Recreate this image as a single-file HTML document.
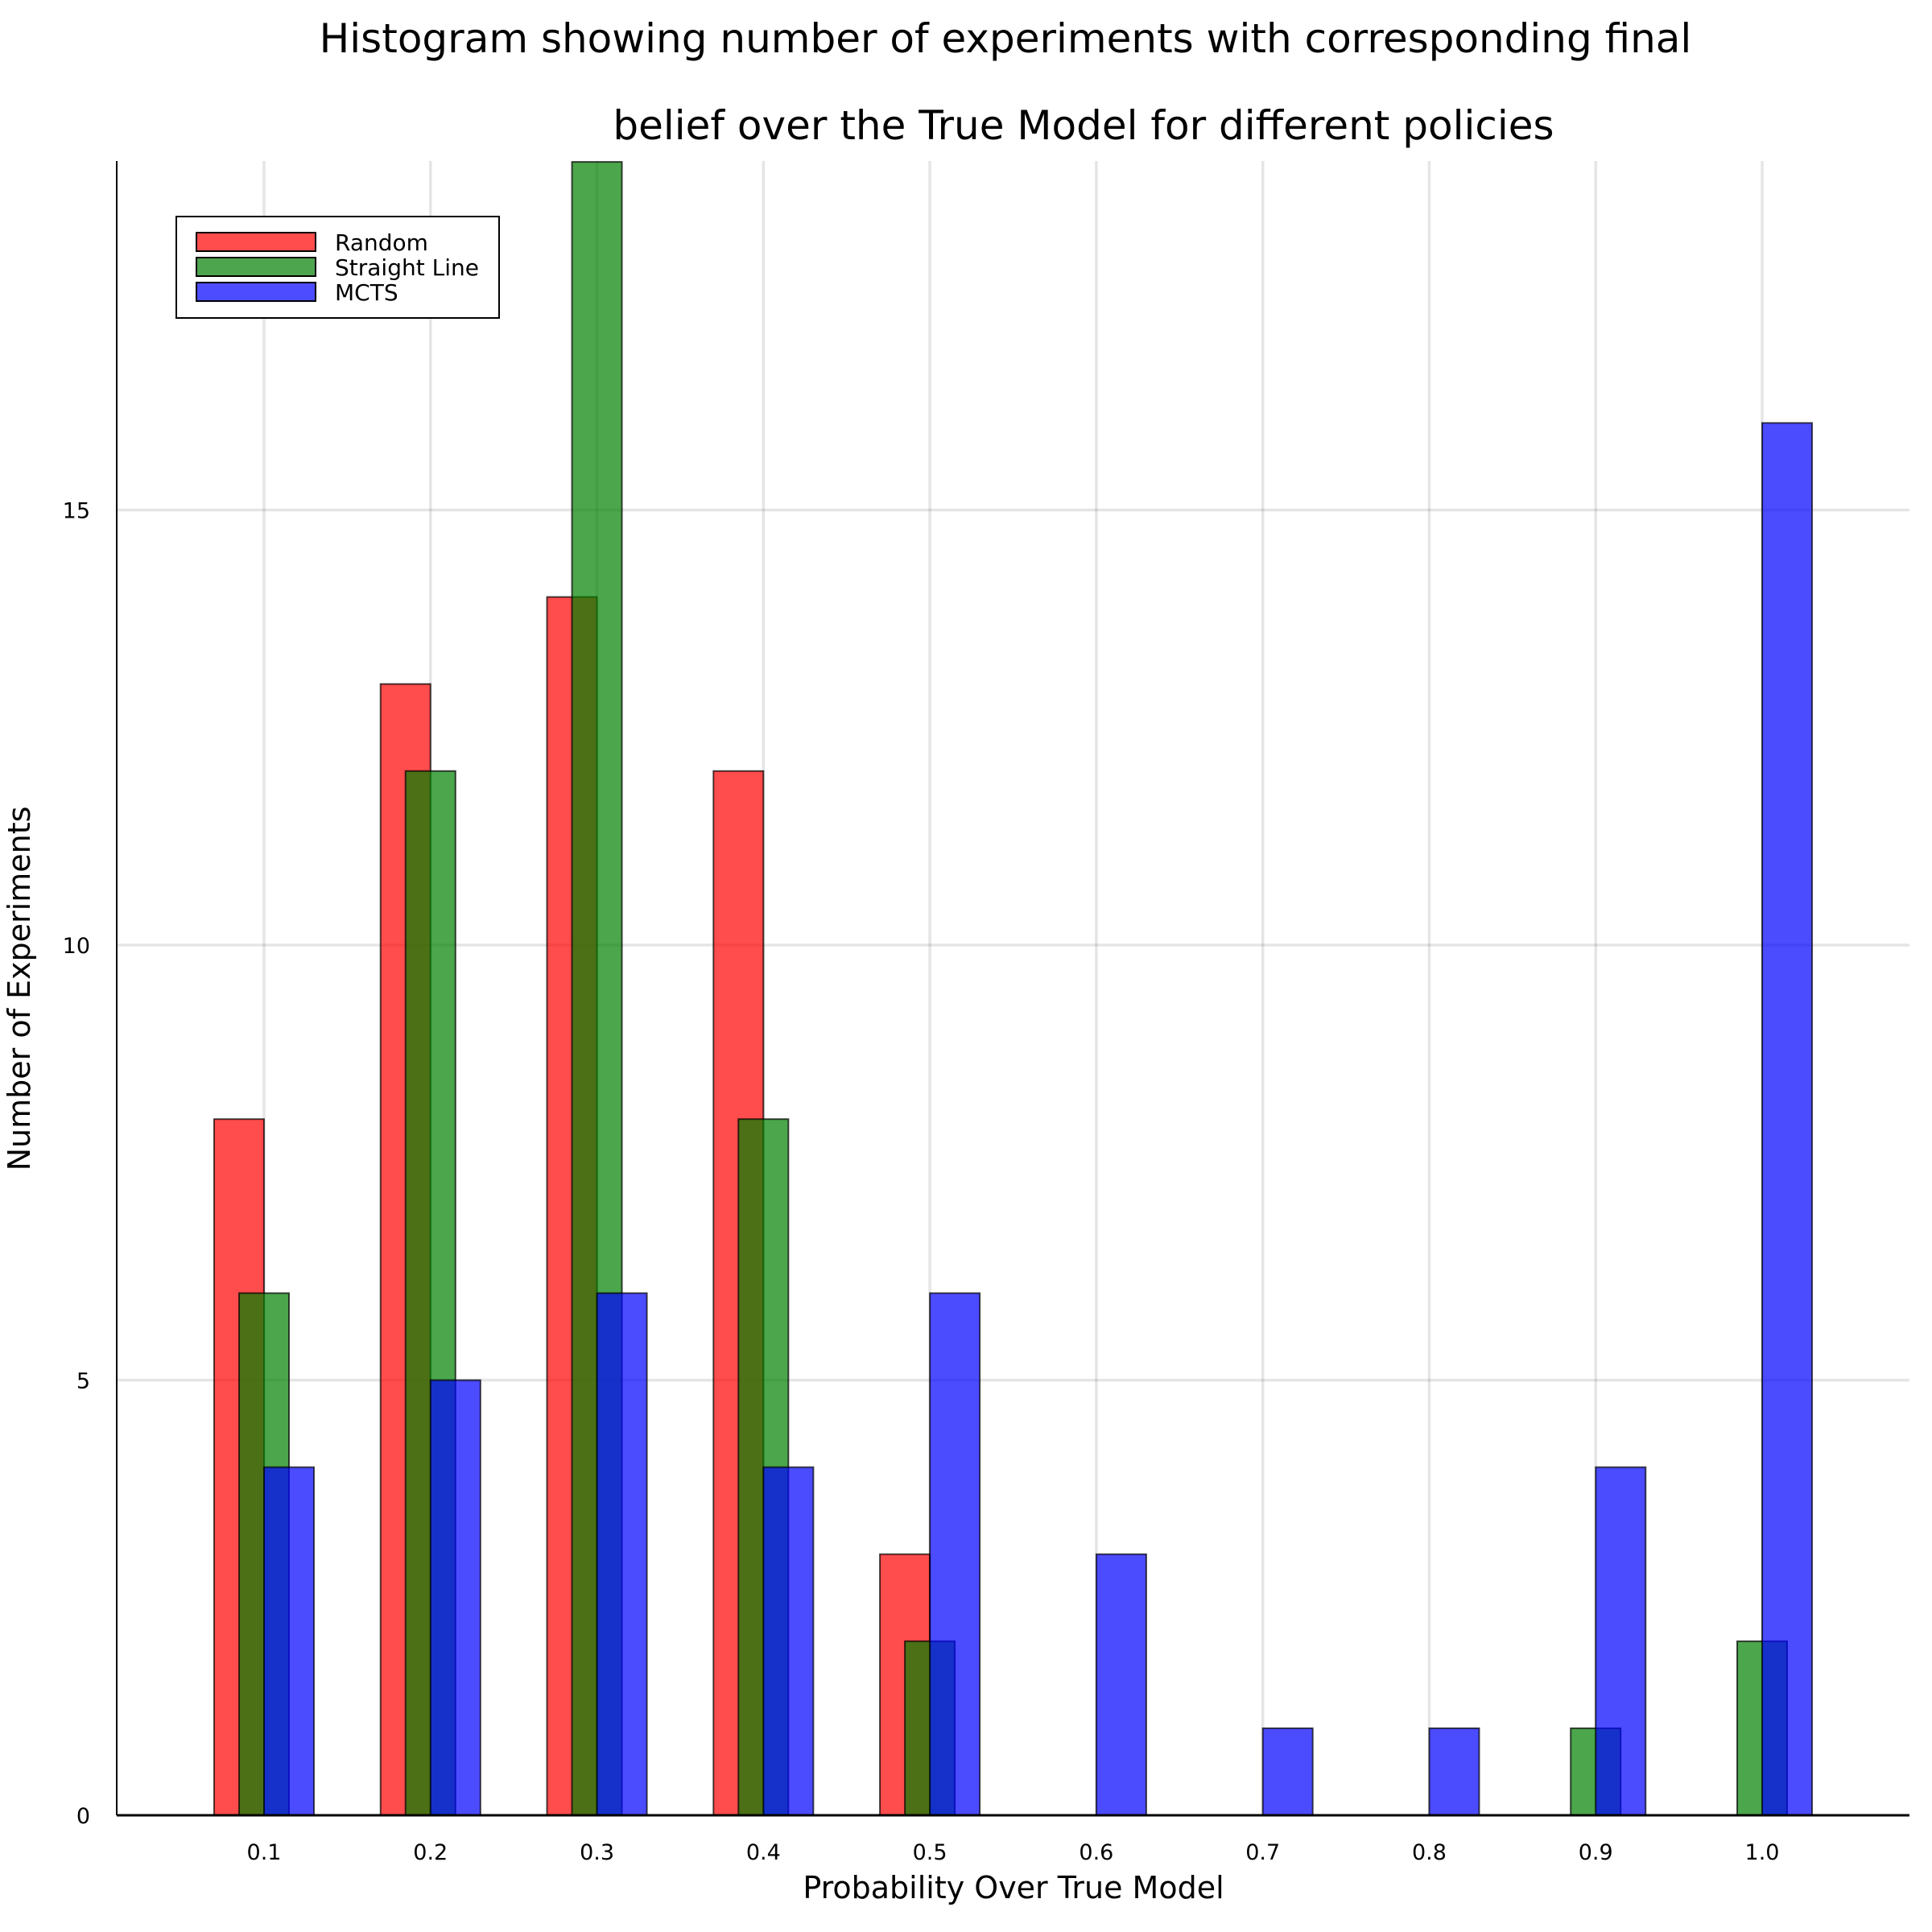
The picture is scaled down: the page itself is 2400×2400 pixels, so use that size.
<!DOCTYPE html>
<html><head><meta charset="utf-8">
<style>
html,body{margin:0;padding:0;background:#fff;}
svg{display:block;font-family:"DejaVu Sans","Liberation Sans",sans-serif;}
</style></head>
<body>
<svg id="chart" width="2400" height="2400" viewBox="0 0 2400 2400" xmlns="http://www.w3.org/2000/svg">
<rect width="2400" height="2400" fill="#fff"/>
<text x="1249" y="65" font-size="50" text-anchor="middle">Histogram showing number of experiments with corresponding final</text>
<text x="1346" y="173" font-size="50" text-anchor="middle">belief over the True Model for different policies</text>
<g id="grid"></g>
<g id="bars"></g>
<g id="axes"></g>
<text x="1259" y="2358" font-size="38" text-anchor="middle">Probability Over True Model</text>
<text x="0" y="0" font-size="38" text-anchor="middle" transform="translate(37,1228) rotate(-90)">Number of Experiments</text>
<g>
<rect x="219" y="269" width="401" height="126" fill="#fff" stroke="#000" stroke-width="2"/>
<rect x="244" y="289" width="148" height="23" fill="#ff4d4d" stroke="#000" stroke-width="2"/>
<text x="416" y="311" font-size="28">Random</text>
<rect x="244" y="320" width="148" height="23" fill="#4da64d" stroke="#000" stroke-width="2"/>
<text x="416" y="342" font-size="28">Straight Line</text>
<rect x="244" y="351" width="148" height="23" fill="#4d4dff" stroke="#000" stroke-width="2"/>
<text x="416" y="373" font-size="28">MCTS</text>
</g>
</svg>
<script>
const categories = [0.1,0.2,0.3,0.4,0.5,0.6,0.7,0.8,0.9,1.0];
const xTickLabels = ["0.1","0.2","0.3","0.4","0.5","0.6","0.7","0.8","0.9","1.0"];
const randomValues = [8,13,14,12,3,0,0,0,0,0];
const straightLineValues = [6,12,19,8,2,0,0,0,1,2];
const mctsValues = [4,5,6,4,6,3,1,1,4,16];
const yTicks = [0,5,10,15];
const yTickLabels = ["0","5","10","15"];

const NS = "http://www.w3.org/2000/svg";
const plotL = 145, plotR = 2372, plotT = 200, plotB = 2255;
const x0px = 328, dxpx = (2189-328)/0.9;
function xScale(v){ return x0px + (v-0.1)*dxpx; }
function yScale(v){ return plotB - v*108.1; }
const barW = 0.03*dxpx;

function mk(tag, attrs, parent){
  const e = document.createElementNS(NS, tag);
  for (const k in attrs) e.setAttribute(k, attrs[k]);
  parent.appendChild(e);
  return e;
}
const grid = document.getElementById('grid');
const bars = document.getElementById('bars');
const axes = document.getElementById('axes');

categories.forEach((c,i)=>{
  const x = xScale(c);
  const g = mk('line',{x1:x,x2:x,y1:plotT,y2:plotB,stroke:'rgba(0,0,0,0.1)','stroke-width':3.5},grid);
  
  
  const t = mk('text',{x:x,y:2310,'font-size':27,'text-anchor':'middle'},axes);
  t.textContent = xTickLabels[i];
  
  
});
yTicks.forEach((v,i)=>{
  const y = yScale(v);
  if (v>0){
    const g = mk('line',{x1:plotL,x2:plotR,y1:y,y2:y,stroke:'rgba(0,0,0,0.1)','stroke-width':3.5},grid);
    
    
  }
  const t = mk('text',{x:112,y:y+10,'font-size':27,'text-anchor':'end'},axes);
  t.textContent = yTickLabels[i];
  
  
});

const series = [
  {vals: randomValues, color:'rgba(255,0,0,0.7)', off:-1, name:'bar-random'},
  {vals: straightLineValues, color:'rgba(0,128,0,0.7)', off:-0.5, name:'bar-straight-line'},
  {vals: mctsValues, color:'rgba(0,0,255,0.7)', off:0, name:'bar-mcts'}
];
series.forEach(s=>{
  categories.forEach((c,i)=>{
    const v = s.vals[i];
    if (v<=0) return;
    const x = xScale(c) + s.off*barW;
    const y = yScale(v);
    const r = mk('rect',{x:x,y:y,width:barW,height:plotB-y,fill:s.color,stroke:'rgba(0,0,0,0.7)','stroke-width':2},bars);
    
    
  });
});

const ax = mk('line',{x1:plotL,x2:plotR,y1:plotB,y2:plotB,stroke:'#000','stroke-width':3},axes);


const ay = mk('line',{x1:plotL,x2:plotL,y1:plotT,y2:plotB,stroke:'#000','stroke-width':2},axes);


</script>
</body></html>
